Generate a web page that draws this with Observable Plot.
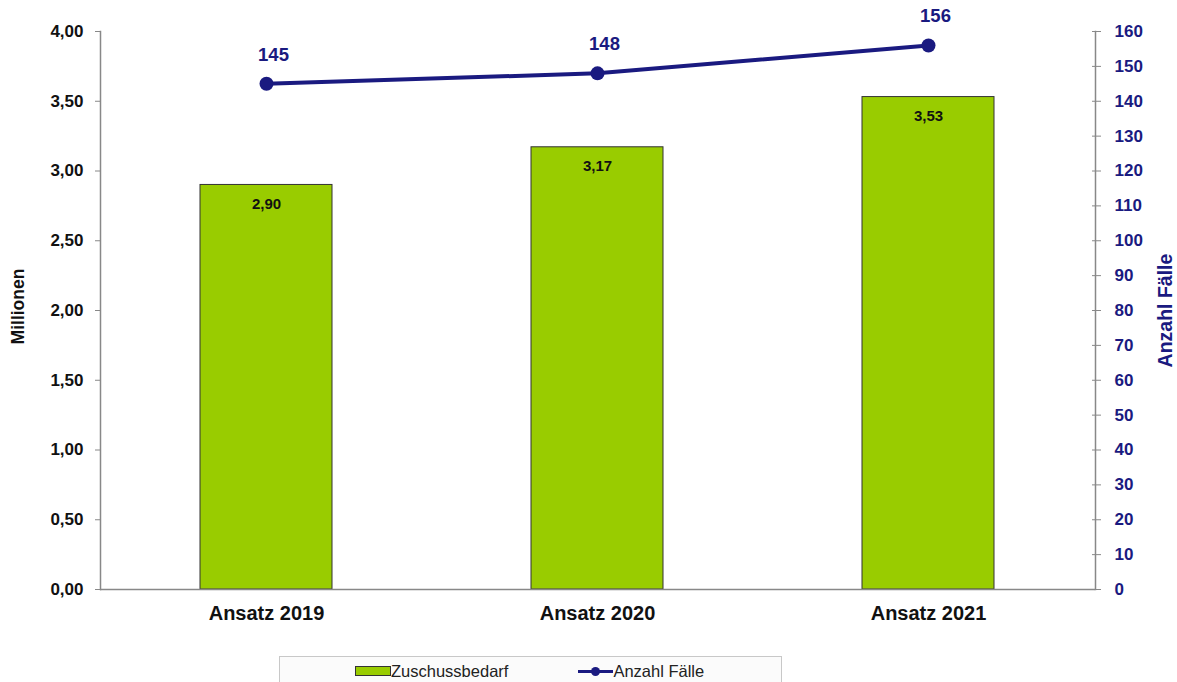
<!DOCTYPE html>
<html><head><meta charset="utf-8">
<script src="https://cdn.jsdelivr.net/npm/d3@7"></script>
<script src="https://cdn.jsdelivr.net/npm/@observablehq/plot@0.6"></script>
<style>
body{margin:0;background:#fff;font-family:"Liberation Sans",Arial,sans-serif;}
#legend{margin-left:279px;width:503px;height:30px;border:1px solid #c8c8c8;background:#fbfbfb;display:flex;align-items:center;font-size:16.5px;color:#222;box-sizing:border-box;}
.sw{display:inline-block;width:34px;height:8px;background:#99cc00;border:1px solid #333;margin-left:75px;}
.ln{display:inline-block;position:relative;width:35px;height:10px;margin-left:70px;}
.ln:before{content:"";position:absolute;left:0;right:0;top:4px;height:3px;background:#1a1a80;}
.ln:after{content:"";position:absolute;left:13px;top:1px;width:9px;height:9px;border-radius:50%;background:#1a1a80;}
</style></head><body>
<div id="chart"></div>
<div id="legend"><span class="sw"></span><span>Zuschussbedarf</span><span class="ln"></span><span>Anzahl Fälle</span></div>
<script>
const categories = ["Ansatz 2019", "Ansatz 2020", "Ansatz 2021"];
const zuschuss = [2.90, 3.17, 3.53];
const faelle = [145, 148, 156];
const leftTicks = [0, 0.5, 1, 1.5, 2, 2.5, 3, 3.5, 4];
const rightTicks = [0, 10, 20, 30, 40, 50, 60, 70, 80, 90, 100, 110, 120, 130, 140, 150, 160];
const leftMax = 4, rightMax = 160;
const k = leftMax / rightMax;

const bars = categories.map((c, i) => ({cat: c, v: zuschuss[i]}));
const pts = categories.map((c, i) => ({cat: c, n: faelle[i], y: faelle[i] * k}));
const fmt = d => d.toFixed(2).replace(".", ",");
const navy = "#1a1a80";

const plot = Plot.plot({
  width: 1177, height: 656,
  marginLeft: 100, marginRight: 82, marginTop: 31, marginBottom: 67,
  style: {fontFamily: "Liberation Sans, Arial, sans-serif", fontSize: "17px", fontWeight: "bold", color: "#111", background: "#fff"},
  x: {domain: categories, paddingInner: 0.6, paddingOuter: 0.3},
  y: {domain: [0, leftMax]},
  marks: [
    Plot.barY(bars, {x: "cat", y: "v", fill: "#99cc00", stroke: "#333", strokeWidth: 1}),
    Plot.text(bars, {x: "cat", y: "v", text: d => fmt(d.v), dy: 19, fontSize: 15, fontWeight: "bold", fill: "#111"}),
    Plot.ruleY([0], {stroke: "#888", strokeWidth: 1.5}),
    Plot.axisY(leftTicks, {anchor: "left", tickFormat: fmt, tickSize: 5, tickPadding: 12, stroke: "#888", label: null, fontSize: 17}),
    Plot.axisY(rightTicks.map(v => v * k), {anchor: "right", tickFormat: d => String(Math.round(d / k)), tickSize: 5, tickPadding: 14, stroke: "#888", fill: navy, label: null, fontSize: 17}),
    Plot.axisY(rightTicks.map(v => v * k), {anchor: "right", tickFormat: () => "", tickSize: -4, tickPadding: 0, stroke: "#888", label: null}),
    Plot.frame({anchor: "left", stroke: "#888", strokeWidth: 1.5}),
    Plot.frame({anchor: "right", stroke: "#888", strokeWidth: 1.5}),
    Plot.axisX({tickSize: 0, tickPadding: 16, fontSize: 20, label: null}),
    Plot.text(["Millionen"], {frameAnchor: "left", textAnchor: "middle", rotate: -90, dx: -82, dy: -4, fontSize: 17.5, fontWeight: "bold", fill: "#111"}),
    Plot.text(["Anzahl Fälle"], {frameAnchor: "right", textAnchor: "middle", rotate: -90, dx: 70, fontSize: 19.5, fontWeight: "bold", fill: navy}),
    Plot.line(pts, {x: "cat", y: "y", stroke: navy, strokeWidth: 4}),
    Plot.dot(pts, {x: "cat", y: "y", r: 7, fill: navy}),
    Plot.text(pts, {x: "cat", y: "y", text: d => String(d.n), dy: -29, dx: 7, fontSize: 18.5, fontWeight: "bold", fill: navy})
  ]
});
document.getElementById("chart").appendChild(plot);
</script>
</body></html>
